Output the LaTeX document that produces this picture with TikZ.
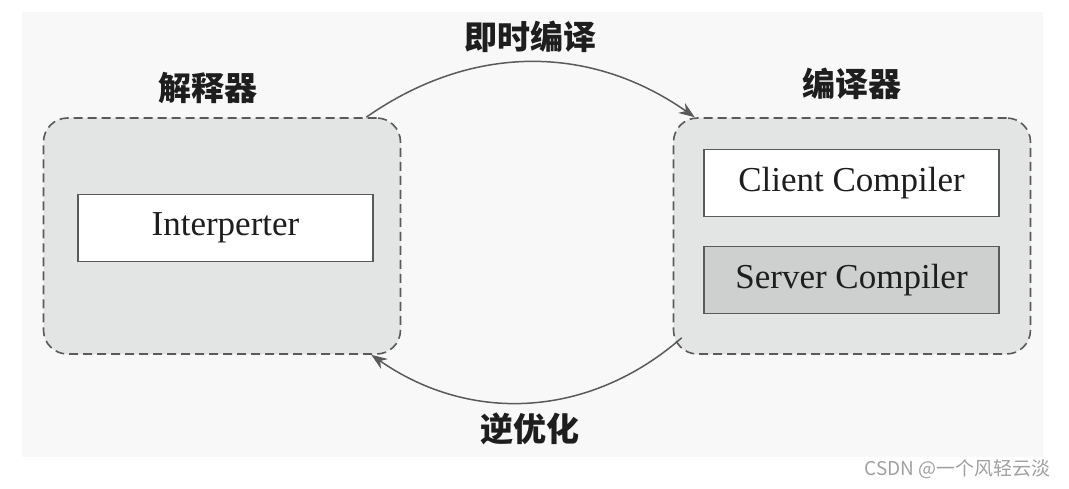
\documentclass[tikz,border=0pt]{standalone}
\usepackage{fontspec}
\setmainfont{Liberation Serif}
\newfontfamily\cjk{Noto Sans CJK SC}
\usepackage{xcolor}
\usepackage{tikz}
\usetikzlibrary{positioning,arrows.meta}
\definecolor{pagebg}{HTML}{F8F8F8}
\definecolor{groupbg}{HTML}{E3E5E5}
\definecolor{groupbd}{HTML}{5A5A5A}
\definecolor{serverbg}{HTML}{CDD0CF}
\definecolor{inkgray}{HTML}{1E1E1E}
\definecolor{markgray}{HTML}{A0A0A0}
\tikzset{
  group/.style={draw=groupbd,fill=groupbg,line width=1.6pt,dash pattern=on 9pt off 5pt,rounded corners=24pt,minimum width=357pt,minimum height=236pt},
  unit/.style={draw=groupbd,fill=white,line width=1.4pt,minimum width=295pt,minimum height=67pt,inner sep=0pt,font=\fontsize{35}{40}\selectfont,text=inkgray},
  caption/.style={font=\cjk\bfseries\fontsize{33}{40}\selectfont,text=inkgray,inner sep=0pt},
  flow/.style={draw=groupbd,line width=1.5pt,-{Stealth[length=16pt,width=12pt]}}
}

\begin{document}
\begin{tikzpicture}[x=1pt,y=1pt]
\useasboundingbox (0,0) rectangle (1069,-489);
\fill[pagebg] (22,-12) rectangle (1043,-457);
\node[group] (interp) at (222,-236) {};
\node[group] (compiler) at (852,-236) {};
\node[unit] (interpreter) at (225.5,-228) {Interperter};
\node[unit] (client) at (851.5,-183) {Client Compiler};
\node[unit,fill=serverbg] (server) at (851.5,-280) {Server Compiler};
\node[caption] (interplabel) at (208,-88) {解释器};
\node[caption] (compilerlabel) at (852,-84) {编译器};
\coordinate (jitfrom) at ([xshift=-35pt]interp.north east);
\coordinate (jitto) at ([xshift=22pt]compiler.north west);
\coordinate (deoptfrom) at ([xshift=9pt,yshift=17pt]compiler.south west);
\coordinate (deoptto) at ([xshift=-30pt]interp.south east);
\draw[flow] (jitfrom) to[bend left=35] node[caption,above=9pt] (jitlabel) {即时编译} (jitto);
\draw[flow] (deoptfrom) to[bend left=38] node[caption,below=10pt] (deoptlabel) {逆优化} (deoptto);
\node[font=\cjk\fontsize{19}{22}\selectfont,text=markgray,anchor=east] (mark) at (1054,-469) {CSDN @一个风轻云淡};
\end{tikzpicture}
\end{document}
